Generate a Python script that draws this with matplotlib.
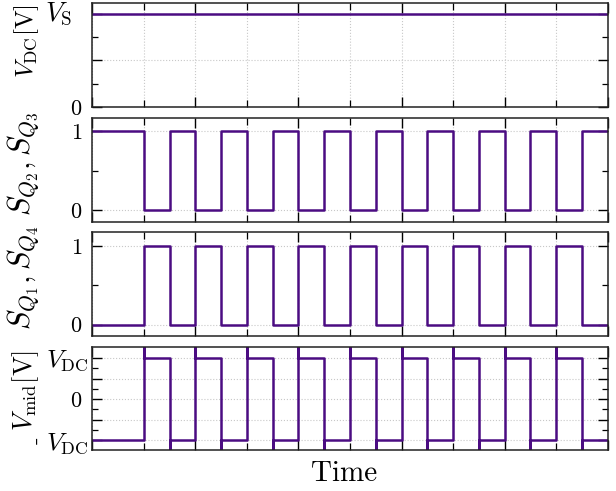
import matplotlib
matplotlib.use("Agg")
import matplotlib.pyplot as plt
import matplotlib.transforms as mtransforms
from matplotlib.ticker import MultipleLocator, FixedLocator

# switching instants (one unit = one switching period)
t_start, t_end = 0.0, 10.0
fall_q23 = [1, 2, 3, 4, 5, 6, 7, 8, 9]
rise_q23 = [1.5, 2.5, 3.5, 4.5, 5.5, 6.5, 7.5, 8.5, 9.5]
v_s = 1.0          # normalised DC source level
spike = 1.6        # overshoot of V_mid at each edge (clipped by the axes)

color = "#4B0C82"

plt.rcParams.update({
    "font.family": "serif",
    "font.serif": ["cmr10"],
    "mathtext.fontset": "cm",
    "axes.unicode_minus": False,
    "axes.linewidth": 1.1,
    "axes.edgecolor": "#222222",
    "xtick.direction": "in",
    "ytick.direction": "in",
    "xtick.top": True,
    "ytick.right": True,
    "xtick.major.size": 7,
    "xtick.minor.size": 5,
    "ytick.major.size": 7,
    "ytick.minor.size": 4,
    "xtick.major.width": 1.0,
    "ytick.major.width": 1.0,
    "xtick.minor.width": 0.9,
    "ytick.minor.width": 0.9,
    "ytick.labelsize": 18.5,
    "ytick.major.pad": 3,
})

# build the step waveforms
t_sw, s_q23 = [t_start], [1]
t_mid, v_mid = [t_start], [-1]
for f, r in zip(fall_q23, rise_q23):
    t_sw += [f, f, r, r]
    s_q23 += [1, 0, 0, 1]
    t_mid += [f, f, f, r, r, r]
    v_mid += [-1, spike, 1, 1, -spike, -1]
t_sw.append(t_end)
s_q23.append(1)
t_mid.append(t_end)
v_mid.append(-1)
s_q14 = [1 - s for s in s_q23]

fig, axes = plt.subplots(4, 1, sharex=True, figsize=(6.16, 4.91), dpi=100)
fig.subplots_adjust(left=0.1498, right=0.9865, top=0.9929, bottom=0.0825, hspace=0.104)
ax1, ax2, ax3, ax4 = axes

ax1.plot([t_start, t_end], [v_s, v_s], color=color, lw=1.8)
ax2.plot(t_sw, s_q23, color=color, lw=1.8)
ax3.plot(t_sw, s_q14, color=color, lw=1.8)
ax4.plot(t_mid, v_mid, color=color, lw=1.8)

for ax in axes:
    ax.set_xlim(t_start, t_end)
    ax.xaxis.set_major_locator(MultipleLocator(2))
    ax.xaxis.set_minor_locator(MultipleLocator(1))
    ax.tick_params(axis="x", which="both", labelbottom=False)
    ax.grid(axis="x", which="both", ls=":", color="#c8c8c8", lw=0.8)
    ax.grid(axis="y", which="major", ls=":", color="#c8c8c8", lw=0.8)
    ax.set_axisbelow(True)

ax1.set_ylim(0, 1.107)
ax1.yaxis.set_major_locator(FixedLocator([0, 0.5, 1]))
ax1.yaxis.set_minor_locator(FixedLocator([0.25, 0.75]))
ax1.set_yticklabels(["$0$", "", ""])
trans1 = mtransforms.blended_transform_factory(ax1.transAxes, ax1.transData)
ax1.text(-0.038, v_s, r"$V_{\rm S}$", transform=trans1, ha="right", va="center", fontsize=19.5)
ax1.set_ylabel(r"$V_{\rm DC}[{\rm V}]$", fontsize=18)
ax1.yaxis.set_label_coords(-0.10, 0.64)

for ax, lab in [(ax2, r"$S_{Q_2}, S_{Q_3}$"), (ax3, r"$S_{Q_1}, S_{Q_4}$")]:
    ax.set_ylim(-0.145, 1.17)
    ax.yaxis.set_major_locator(FixedLocator([0, 1]))
    ax.yaxis.set_minor_locator(FixedLocator([0.5]))
    ax.set_yticklabels(["$0$", "$1$"])
    ax.set_ylabel(lab, fontsize=22)
    ax.yaxis.set_label_coords(-0.10, 0.56)

ax4.set_ylim(-1.245, 1.27)
ax4.yaxis.set_major_locator(FixedLocator([-1, -0.5, 0, 0.5, 1]))
ax4.yaxis.set_minor_locator(FixedLocator([-0.75, -0.25, 0.25, 0.75]))
ax4.set_yticklabels([r"$V_{\rm DC}$", "", "$0$", "", r"$V_{\rm DC}$"])
ax4.set_ylabel(r"$V_{\rm mid}[{\rm V}]$", fontsize=19)
ax4.yaxis.set_label_coords(-0.10, 0.575)
trans4 = mtransforms.blended_transform_factory(ax4.transAxes, ax4.transData)
ax4.text(-0.108, -1, "-", rotation=90, transform=trans4, ha="center", va="center", fontsize=16)

# digits are drawn a little smaller and further from the spine
shift = mtransforms.ScaledTranslation(-6 / 100, 0, fig.dpi_scale_trans)
for ax in axes:
    for lab in ax.get_yticklabels():
        if "V" not in lab.get_text():
            lab.set_fontsize(16)
            lab.set_transform(lab.get_transform() + shift)

ax4.set_xlabel("Time", fontsize=21, labelpad=8)
ax4.xaxis.set_label_coords(0.489, -0.1)
ax4.xaxis.label.set_va("top")

fig.savefig("out.png", dpi=100)
